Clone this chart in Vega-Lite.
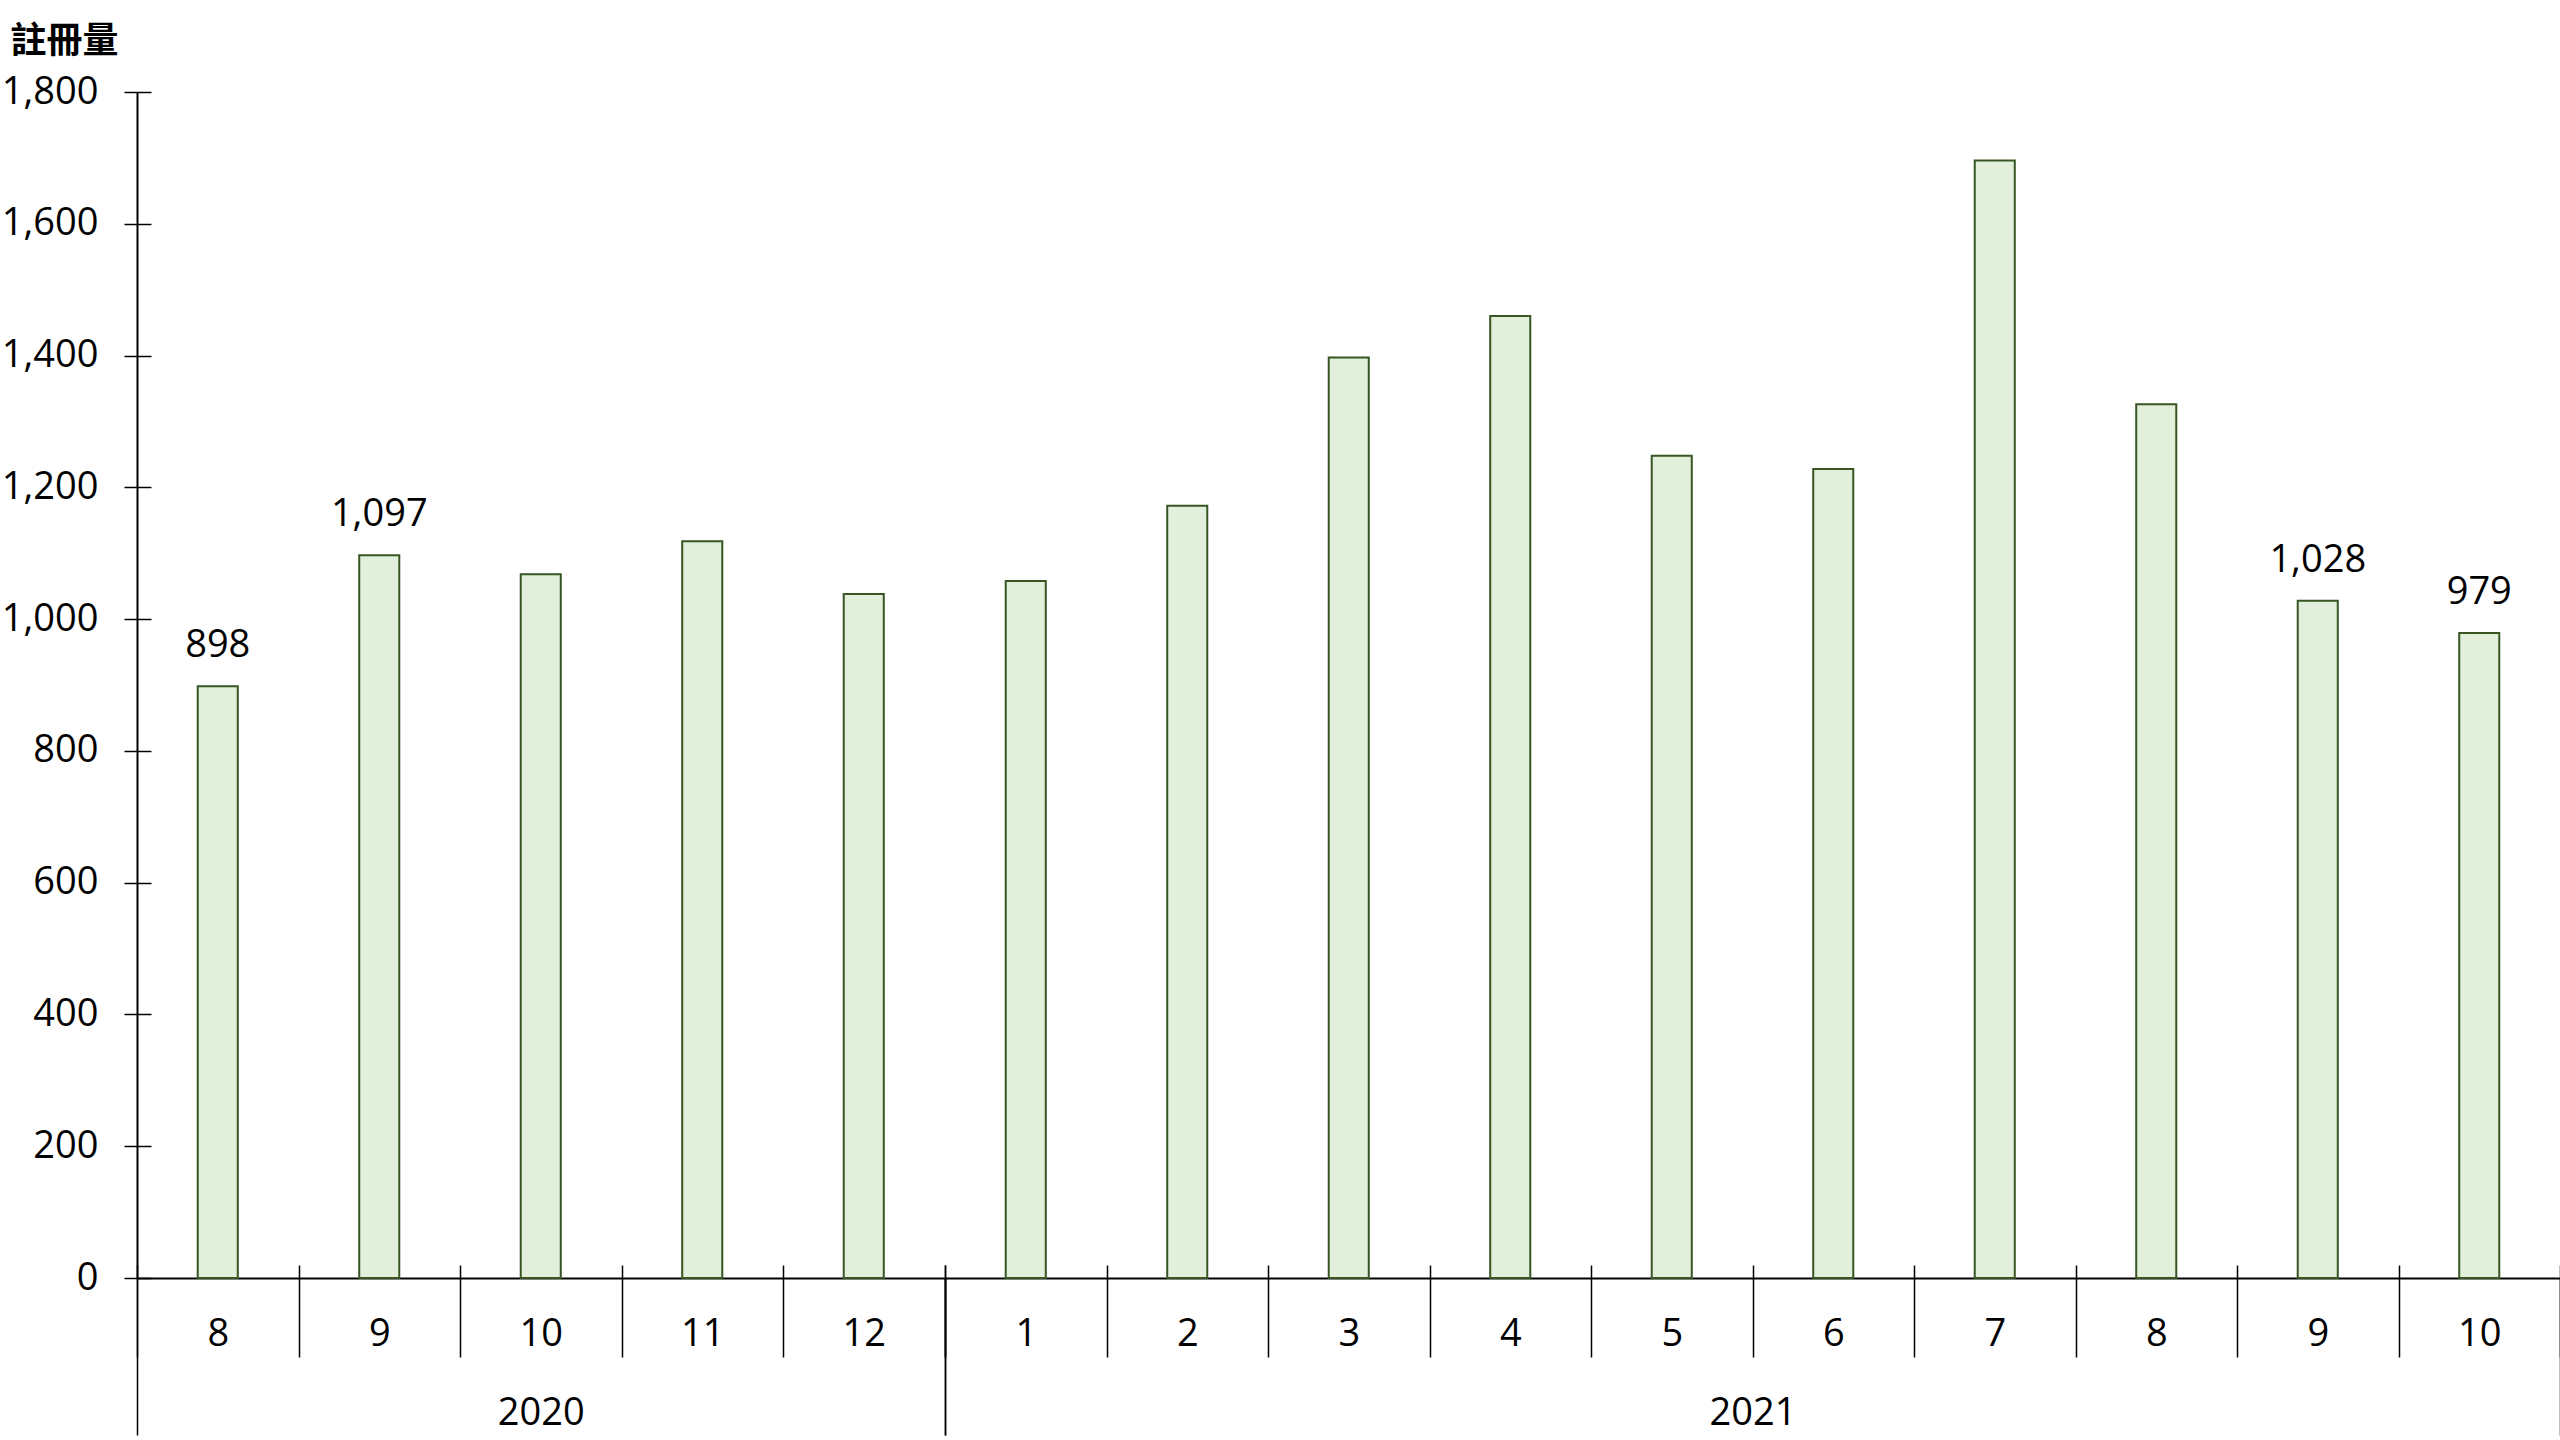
{
  "$schema": "https://vega.github.io/schema/vega-lite/v6.json",
  "padding": {"left": 1, "top": 23, "right": 0, "bottom": 0},
  "background": "white",
  "datasets": {
    "reg": [
      {"year": 2020, "month": 8, "value": 898},
      {"year": 2020, "month": 9, "value": 1097},
      {"year": 2020, "month": 10, "value": 1068},
      {"year": 2020, "month": 11, "value": 1118},
      {"year": 2020, "month": 12, "value": 1038},
      {"year": 2021, "month": 1, "value": 1058},
      {"year": 2021, "month": 2, "value": 1172},
      {"year": 2021, "month": 3, "value": 1397},
      {"year": 2021, "month": 4, "value": 1460},
      {"year": 2021, "month": 5, "value": 1248},
      {"year": 2021, "month": 6, "value": 1228},
      {"year": 2021, "month": 7, "value": 1696},
      {"year": 2021, "month": 8, "value": 1326},
      {"year": 2021, "month": 9, "value": 1028},
      {"year": 2021, "month": 10, "value": 979}
    ]
  },
  "data": {"name": "reg"},
  "spacing": 0,
  "bounds": "flush",
  "hconcat": [
    {
      "width": 807.5,
      "height": 1186,
      "transform": [{"filter": "datum.year == 2020"}],
      "layer": [
        {
          "layer": [
            {
              "mark": {"type": "bar", "fill": "#E2EFDA", "stroke": "#375623", "strokeWidth": 2, "width": {"band": 0.248}},
              "encoding": {
                "x": {"field": "month", "type": "ordinal", "sort": "ascending",
                  "scale": {"paddingInner": 0, "paddingOuter": 0},
                  "axis": {"orient": "bottom", "domain": true, "domainColor": "black", "domainWidth": 2,
                    "ticks": true, "tickBand": "extent", "tickSize": 79, "tickColor": "black", "tickWidth": 1.5,
                    "labelAngle": 0, "labelFontSize": 38, "labelFont": "Open Sans", "labelColor": "black",
                    "labelBaseline": "alphabetic", "labelPadding": -12, "title": null, "grid": false}},
                "y": {"field": "value", "type": "quantitative",
                  "scale": {"domain": [0, 1800], "nice": false},
                  "axis": {"orient": "left", "values": [0, 200, 400, 600, 800, 1000, 1200, 1400, 1600, 1800], "format": ",d",
                    "domain": true, "domainColor": "black", "domainWidth": 2,
                    "tickSize": 13, "tickColor": "black", "tickWidth": 1.5,
                    "labelFontSize": 38, "labelFont": "Open Sans", "labelColor": "black", "labelPadding": 26,
                    "title": "註冊量", "titleAngle": 0, "titleAlign": "left", "titleBaseline": "alphabetic",
                    "titleX": -127, "titleY": -40, "titleFont": "Noto Sans CJK TC", "titleFontSize": 36,
                    "titleFontWeight": "bold", "titleColor": "black", "grid": false}}
              }
            },
            {
              "transform": [{"filter": {"field": "month", "oneOf": [8, 9]}}],
              "mark": {"type": "text", "baseline": "alphabetic", "dy": -29, "fontSize": 38, "font": "Open Sans", "color": "black"},
              "encoding": {
                "x": {"field": "month", "type": "ordinal",
                  "axis": {"orient": "bottom", "domain": false, "labels": false, "ticks": true, "tickBand": "extent",
                    "tickSize": -13, "tickColor": "black", "tickWidth": 1.5, "title": null, "grid": false}},
                "y": {"field": "value", "type": "quantitative",
                  "axis": {"orient": "left", "values": [0, 200, 400, 600, 800, 1000, 1200, 1400, 1600, 1800],
                    "domain": false, "labels": false, "tickSize": -14, "tickColor": "black", "tickWidth": 1.5,
                    "title": null, "grid": false}},
                "text": {"field": "value", "type": "quantitative", "format": ",d"}
              }
            }
          ],
          "resolve": {"axis": {"x": "independent", "y": "independent"}}
        },
        {
          "mark": {"type": "text", "text": ""},
          "encoding": {
            "x": {"field": "year", "type": "ordinal",
              "scale": {"paddingInner": 0, "paddingOuter": 0},
              "axis": {"orient": "bottom", "domain": false, "ticks": true, "tickBand": "extent", "tickSize": 157,
                "tickColor": "black", "tickWidth": 1.5, "labelAngle": 0, "labelFontSize": 38, "labelFont": "Open Sans",
                "labelColor": "black", "labelBaseline": "alphabetic", "labelPadding": -11, "title": null, "grid": false}}
          }
        }
      ],
      "resolve": {"scale": {"x": "independent"}, "axis": {"x": "independent"}}
    },
    {
      "width": 1615,
      "height": 1186,
      "transform": [{"filter": "datum.year == 2021"}],
      "layer": [
        {
          "layer": [
            {
              "mark": {"type": "bar", "fill": "#E2EFDA", "stroke": "#375623", "strokeWidth": 2, "width": {"band": 0.248}},
              "encoding": {
                "x": {"field": "month", "type": "ordinal", "sort": "ascending",
                  "scale": {"paddingInner": 0, "paddingOuter": 0},
                  "axis": {"orient": "bottom", "domain": true, "domainColor": "black", "domainWidth": 2,
                    "ticks": true, "tickBand": "extent", "tickSize": 79, "tickColor": "black", "tickWidth": 1.5,
                    "labelAngle": 0, "labelFontSize": 38, "labelFont": "Open Sans", "labelColor": "black",
                    "labelBaseline": "alphabetic", "labelPadding": -12, "title": null, "grid": false}},
                "y": {"field": "value", "type": "quantitative",
                  "scale": {"domain": [0, 1800], "nice": false},
                  "axis": null}
              }
            },
            {
              "transform": [{"filter": {"field": "month", "oneOf": [9, 10]}}],
              "mark": {"type": "text", "baseline": "alphabetic", "dy": -29, "fontSize": 38, "font": "Open Sans", "color": "black"},
              "encoding": {
                "x": {"field": "month", "type": "ordinal",
                  "axis": {"orient": "bottom", "domain": false, "labels": false, "ticks": true, "tickBand": "extent",
                    "tickSize": -13, "tickColor": "black", "tickWidth": 1.5, "title": null, "grid": false}},
                "y": {"field": "value", "type": "quantitative", "axis": null},
                "text": {"field": "value", "type": "quantitative", "format": ",d"}
              }
            }
          ],
          "resolve": {"axis": {"x": "independent"}}
        },
        {
          "mark": {"type": "text", "text": ""},
          "encoding": {
            "x": {"field": "year", "type": "ordinal",
              "scale": {"paddingInner": 0, "paddingOuter": 0},
              "axis": {"orient": "bottom", "domain": false, "ticks": true, "tickBand": "extent", "tickSize": 157,
                "tickColor": "black", "tickWidth": 1.5, "labelAngle": 0, "labelFontSize": 38, "labelFont": "Open Sans",
                "labelColor": "black", "labelBaseline": "alphabetic", "labelPadding": -11, "title": null, "grid": false}}
          }
        }
      ],
      "resolve": {"scale": {"x": "independent"}, "axis": {"x": "independent"}}
    }
  ],
  "config": {"view": {"stroke": null}, "axis": {"grid": false}}
}
